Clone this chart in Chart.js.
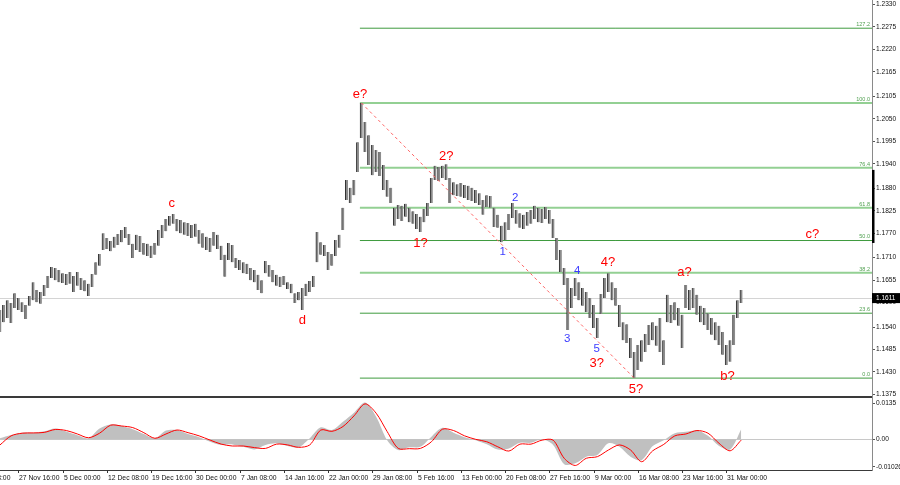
<!DOCTYPE html>
<html>
<head>
<meta charset="utf-8">
<script src="https://cdn.jsdelivr.net/npm/chart.js@4.4.1/dist/chart.umd.min.js"></script>
<style>
  html, body { margin: 0; padding: 0; background: #fff; }
  #wrap { position: relative; width: 900px; height: 485px; overflow: hidden; }
  #price { position: absolute; left: 0; top: 0; }
  #macd { position: absolute; left: 0; top: 397px; }
</style>
</head>
<body>
<div id="wrap">
  <canvas id="price" width="900" height="397"></canvas>
  <canvas id="macd" width="900" height="88"></canvas>
</div>
<script>
// bar ranges (one entry per bar, oldest first)
const highs = [
  1.1582, 1.1594, 1.1606, 1.1599, 1.1623, 1.1611, 1.1601, 1.1594, 1.1616, 1.1650,
  1.1631, 1.1626, 1.1643, 1.1665, 1.1687, 1.1685, 1.1680, 1.1672, 1.1670, 1.1675,
  1.1665, 1.1675, 1.1660, 1.1655, 1.1646, 1.1670, 1.1699, 1.1719, 1.1770, 1.1758,
  1.1751, 1.1761, 1.1768, 1.1778, 1.1785, 1.1768, 1.1744, 1.1766, 1.1763, 1.1746,
  1.1744, 1.1739, 1.1746, 1.1778, 1.1790, 1.1805, 1.1812, 1.1817, 1.1805, 1.1802,
  1.1797, 1.1795, 1.1790, 1.1793, 1.1778, 1.1770, 1.1761, 1.1758, 1.1773, 1.1766,
  1.1739, 1.1717, 1.1746, 1.1741, 1.1709, 1.1704, 1.1699, 1.1695, 1.1685, 1.1680,
  1.1668, 1.1655, 1.1702, 1.1692, 1.1680, 1.1668, 1.1663, 1.1665, 1.1650, 1.1646,
  1.1623, 1.1626, 1.1636, 1.1646, 1.1653, 1.1665, 1.1773, 1.1748, 1.1741, 1.1724,
  1.1719, 1.1753, 1.1766, 1.1832, 1.1900, 1.1881, 1.1900, 1.1993, 1.2089, 1.2042,
  1.2010, 1.1986, 1.1974, 1.1969, 1.1937, 1.1900, 1.1881, 1.1832, 1.1839, 1.1837,
  1.1842, 1.1832, 1.1824, 1.1817, 1.1810, 1.1829, 1.1844, 1.1905, 1.1935, 1.1932,
  1.1935, 1.1939, 1.1905, 1.1895, 1.1890, 1.1893, 1.1888, 1.1886, 1.1881, 1.1876,
  1.1868, 1.1851, 1.1863, 1.1861, 1.1832, 1.1815, 1.1788, 1.1797, 1.1817, 1.1844,
  1.1827, 1.1819, 1.1815, 1.1822, 1.1827, 1.1837, 1.1832, 1.1829, 1.1834, 1.1827,
  1.1805, 1.1758, 1.1729, 1.1685, 1.1660, 1.1636, 1.1660, 1.1650, 1.1636, 1.1626,
  1.1611, 1.1594, 1.1562, 1.1621, 1.1660, 1.1672, 1.1650, 1.1636, 1.1594, 1.1552,
  1.1547, 1.1513, 1.1479, 1.1496, 1.1508, 1.1523, 1.1545, 1.1552, 1.1543, 1.1562,
  1.1508, 1.1619, 1.1594, 1.1601, 1.1587, 1.1570, 1.1643, 1.1631, 1.1636, 1.1619,
  1.1592, 1.1587, 1.1574, 1.1562, 1.1552, 1.1543, 1.1528, 1.1496, 1.1508, 1.1570,
  1.1606, 1.1631
];
const lows = [
  1.1528, 1.1552, 1.1562, 1.1550, 1.1587, 1.1582, 1.1577, 1.1560, 1.1592, 1.1606,
  1.1601, 1.1597, 1.1616, 1.1636, 1.1660, 1.1655, 1.1650, 1.1648, 1.1643, 1.1646,
  1.1626, 1.1641, 1.1631, 1.1628, 1.1616, 1.1638, 1.1668, 1.1690, 1.1729, 1.1731,
  1.1726, 1.1734, 1.1741, 1.1748, 1.1758, 1.1741, 1.1709, 1.1729, 1.1724, 1.1717,
  1.1714, 1.1709, 1.1717, 1.1739, 1.1758, 1.1775, 1.1788, 1.1793, 1.1775, 1.1770,
  1.1766, 1.1763, 1.1758, 1.1761, 1.1744, 1.1734, 1.1729, 1.1724, 1.1739, 1.1731,
  1.1704, 1.1663, 1.1704, 1.1699, 1.1685, 1.1680, 1.1672, 1.1670, 1.1655, 1.1650,
  1.1631, 1.1623, 1.1672, 1.1663, 1.1650, 1.1641, 1.1638, 1.1643, 1.1633, 1.1623,
  1.1599, 1.1606, 1.1582, 1.1616, 1.1626, 1.1638, 1.1699, 1.1717, 1.1714, 1.1680,
  1.1690, 1.1714, 1.1734, 1.1778, 1.1851, 1.1844, 1.1863, 1.1920, 1.2003, 1.1969,
  1.1937, 1.1912, 1.1920, 1.1910, 1.1876, 1.1859, 1.1844, 1.1788, 1.1805, 1.1800,
  1.1810, 1.1797, 1.1793, 1.1780, 1.1773, 1.1797, 1.1812, 1.1844, 1.1900, 1.1898,
  1.1905, 1.1900, 1.1844, 1.1863, 1.1861, 1.1859, 1.1856, 1.1851, 1.1849, 1.1844,
  1.1839, 1.1815, 1.1834, 1.1832, 1.1785, 1.1783, 1.1748, 1.1753, 1.1778, 1.1807,
  1.1793, 1.1783, 1.1780, 1.1788, 1.1793, 1.1805, 1.1797, 1.1795, 1.1805, 1.1793,
  1.1758, 1.1704, 1.1675, 1.1643, 1.1533, 1.1587, 1.1616, 1.1606, 1.1592, 1.1577,
  1.1562, 1.1538, 1.1513, 1.1572, 1.1611, 1.1626, 1.1606, 1.1592, 1.1540, 1.1508,
  1.1501, 1.1464, 1.1415, 1.1435, 1.1455, 1.1479, 1.1496, 1.1508, 1.1494, 1.1479,
  1.1447, 1.1552, 1.1550, 1.1557, 1.1543, 1.1489, 1.1587, 1.1582, 1.1587, 1.1570,
  1.1552, 1.1545, 1.1533, 1.1521, 1.1508, 1.1496, 1.1472, 1.1447, 1.1455, 1.1496,
  1.1562, 1.1599
];
const lastPrice = 1.1611;

const priceTicks = [1.2330, 1.2275, 1.2220, 1.2165, 1.2105, 1.2050, 1.1995, 1.1940, 1.1880,
  1.1825, 1.1770, 1.1710, 1.1655, 1.1600, 1.1540, 1.1485, 1.1430, 1.1375];

// fibonacci grid drawn from the e? top to the 5? bottom
const fibNames = ['127.2', '100.0', '76.4', '61.8', '50.0', '38.2', '23.6', '0.0'];
const fibLevels = [1.2272, 1.2089, 1.1930, 1.1832, 1.1752, 1.1673, 1.1574, 1.1415];
const fibStart = 97.6;
const waveTop = 98;
const waveBottom = 172;

// wave count labels
const waveText = ['c', 'd', 'e?', '1?', '2?', '3?', '4?', '5?', 'a?', 'b?', 'c?'];
const waveIdx = [46.6, 82, 97.6, 114, 121, 161.8, 164.9, 172.5, 185.6, 197.3, 220.3];
const wavePrice = [1.1843, 1.1557, 1.2111, 1.1746, 1.1957, 1.1452, 1.1699, 1.1388, 1.1673, 1.1418, 1.1766];
const subText = ['1', '2', '3', '4', '5'];
const subIdx = [136.3, 139.7, 153.8, 156.5, 161.8];
const subPrice = [1.1724, 1.1856, 1.1511, 1.1677, 1.1486];
const scaleMark = [1.1925, 1.1746];

// MACD, sampled every third bar
const macdBars = [0, 3, 6, 9, 12, 15, 18, 21, 24, 27, 30, 33, 36, 39, 42, 45, 48, 51, 54, 57,
  60, 63, 66, 69, 72, 75, 78, 81, 84, 87, 90, 93, 96, 99, 102, 105, 108, 111, 114, 117,
  120, 123, 126, 129, 132, 135, 138, 141, 144, 147, 150, 153, 156, 159, 162, 165, 168, 171,
  174, 177, 180, 183, 186, 189, 192, 195, 198, 201];
const macdHist = [0.0004, 0.0016, 0.0025, 0.0025, 0.0030, 0.0041, 0.0029, 0.0015, 0.0004, 0.0041,
  0.0056, 0.0050, 0.0038, 0.0020, 0.0004, 0.0033, 0.0035, 0.0020, 0.0008, -0.0009,
  -0.0021, -0.0019, -0.0028, -0.0038, -0.0021, -0.0015, -0.0025, -0.0030, 0.0004, 0.0045,
  0.0035, 0.0066, 0.0100, 0.0138, 0.0085, -0.0003, -0.0040, -0.0030, -0.0028, 0.0010,
  0.0043, 0.0025, 0.0008, -0.0003, -0.0018, -0.0038, -0.0034, -0.0013, -0.0013, 0.0000,
  -0.0021, -0.0093, -0.0090, -0.0065, -0.0059, -0.0015, -0.0028, -0.0065, -0.0078, -0.0025,
  -0.0003, 0.0023, 0.0028, 0.0033, 0.0013, -0.0025, -0.0038, 0.0038];
const macdSignal = [-0.0021, 0.0013, 0.0023, 0.0024, 0.0026, 0.0037, 0.0033, 0.0020, 0.0006, 0.0023,
  0.0053, 0.0050, 0.0044, 0.0025, 0.0004, 0.0020, 0.0035, 0.0025, 0.0013, -0.0003,
  -0.0018, -0.0025, -0.0025, -0.0031, -0.0034, -0.0018, -0.0021, -0.0030, -0.0021, 0.0035,
  0.0030, 0.0048, 0.0088, 0.0133, 0.0098, 0.0029, -0.0034, -0.0035, -0.0034, -0.0009,
  0.0038, 0.0033, 0.0013, 0.0000, -0.0009, -0.0028, -0.0044, -0.0018, -0.0018, -0.0003,
  -0.0003, -0.0071, -0.0098, -0.0071, -0.0065, -0.0040, -0.0021, -0.0040, -0.0084, -0.0043,
  -0.0019, 0.0013, 0.0020, 0.0033, 0.0023, -0.0015, -0.0043, -0.0003];
const macdTicks = [0.0135, 0, -0.01026];
const macdTickLabels = ['0.0135', '0.00', '-0.01026'];

const timeLabels = ['20 Nov 08:00', '27 Nov 16:00', '5 Dec 00:00', '12 Dec 08:00', '19 Dec 16:00',
  '30 Dec 00:00', '7 Jan 08:00', '14 Jan 16:00', '22 Jan 00:00', '29 Jan 08:00', '5 Feb 16:00',
  '13 Feb 00:00', '20 Feb 08:00', '27 Feb 16:00', '9 Mar 00:00', '16 Mar 08:00', '23 Mar 16:00',
  '31 Mar 00:00'];
const timeIdx = [-8.5, 5, 17, 29, 41, 53, 65, 77, 89, 101, 113, 125, 137, 149, 161, 173, 185, 197];

const FONT = '"Liberation Sans", Arial, sans-serif';
Chart.defaults.font.family = FONT;

const xMax = 872 / 3.6875; // empty space kept right of the last bar

function fixWidth(scale) {
  scale.width = 28;
  scale.paddingTop = 0;
  scale.paddingBottom = 0;
}

const priceOverlay = {
  id: 'priceOverlay',
  beforeDatasetsDraw(chart) {
    const { ctx, chartArea: a, scales: { y } } = chart;
    const py = Math.round(y.getPixelForValue(lastPrice)) + 0.5;
    ctx.save();
    ctx.strokeStyle = '#d4d4d4';
    ctx.lineWidth = 1;
    ctx.beginPath();
    ctx.moveTo(a.left, py);
    ctx.lineTo(a.right, py);
    ctx.stroke();
    ctx.restore();
  },
  afterDatasetsDraw(chart) {
    const { ctx, chartArea: a, scales: { x, y } } = chart;
    ctx.save();
    ctx.font = '5.5px ' + FONT;
    ctx.fillStyle = '#4f9f4f';
    ctx.textAlign = 'right';
    ctx.textBaseline = 'bottom';
    fibLevels.forEach((lvl, j) => {
      ctx.fillText(fibNames[j], a.right - 2, y.getPixelForValue(lvl) - 1);
    });

    ctx.textAlign = 'center';
    ctx.textBaseline = 'middle';
    ctx.font = '13px ' + FONT;
    ctx.fillStyle = '#ff0000';
    waveText.forEach((t, j) => {
      ctx.fillText(t, x.getPixelForValue(waveIdx[j]), y.getPixelForValue(wavePrice[j]));
    });
    ctx.font = '11.5px ' + FONT;
    ctx.fillStyle = '#3c3cff';
    subText.forEach((t, j) => {
      ctx.fillText(t, x.getPixelForValue(subIdx[j]), y.getPixelForValue(subPrice[j]));
    });
    ctx.restore();
  },
  afterDraw(chart) {
    const { ctx, chartArea: a, scales: { y } } = chart;
    ctx.save();
    ctx.fillStyle = '#3a3a3a';
    ctx.fillRect(0, a.bottom, a.right, 1);

    const t = y.getPixelForValue(scaleMark[0]);
    const b = y.getPixelForValue(scaleMark[1]);
    ctx.fillStyle = '#000';
    ctx.fillRect(a.right, t, 2.5, b - t);

    const py = y.getPixelForValue(lastPrice);
    ctx.fillStyle = '#000';
    ctx.fillRect(a.right, py - 5, 28, 10);
    ctx.fillStyle = '#fff';
    ctx.font = '6.5px ' + FONT;
    ctx.textAlign = 'left';
    ctx.textBaseline = 'middle';
    ctx.fillText(lastPrice.toFixed(4), a.right + 4, py + 0.5);
    ctx.restore();
  }
};

const macdOverlay = {
  id: 'macdOverlay',
  beforeDatasetsDraw(chart) {
    const { ctx, chartArea: a, scales: { y } } = chart;
    const py = Math.round(y.getPixelForValue(0)) + 0.5;
    ctx.save();
    ctx.strokeStyle = '#c8c8c8';
    ctx.lineWidth = 1;
    ctx.beginPath();
    ctx.moveTo(a.left, py);
    ctx.lineTo(a.right, py);
    ctx.stroke();
    ctx.restore();
  },
  afterDraw(chart) {
    const { ctx, chartArea: a, scales: { x } } = chart;
    ctx.save();
    ctx.fillStyle = '#3a3a3a';
    ctx.fillRect(0, 0, a.right, 1);
    ctx.fillRect(0, a.bottom, a.right, 1);
    ctx.fillStyle = '#8a8a8a';
    ctx.fillRect(a.right, 0, 1, 1);

    ctx.font = '6.8px ' + FONT;
    ctx.textAlign = 'left';
    ctx.textBaseline = 'alphabetic';
    timeIdx.forEach((idx, j) => {
      const px = Math.round(x.getPixelForValue(idx));
      ctx.fillStyle = '#333';
      ctx.fillRect(px, a.bottom, 1, 3);
      ctx.fillStyle = '#111';
      ctx.fillText(timeLabels[j], px + 1, a.bottom + 10);
    });
    ctx.restore();
  }
};

new Chart(document.getElementById('price'), {
  type: 'bar',
  data: {
    datasets: [
      {
        type: 'bar',
        data: highs.map((h, i) => ({ x: i, y: [lows[i], h] })),
        backgroundColor: '#8c8c8c',
        borderColor: '#333333',
        borderWidth: { left: 1, right: 0, top: 0, bottom: 0 },
        borderSkipped: false,
        barThickness: 2.6,
        order: 2
      },
      ...fibLevels.map((lvl, j) => ({
        type: 'line',
        data: [{ x: fibStart, y: lvl }, { x: xMax, y: lvl }],
        borderColor: [1, 2, 3, 5].includes(j) ? '#93d093' : '#3f9b3f',
        borderWidth: [1, 2, 3, 5].includes(j) ? 2 : 1,
        pointRadius: 0,
        order: 3
      })),
      {
        type: 'line',
        data: [{ x: waveTop, y: highs[waveTop] }, { x: waveBottom, y: lows[waveBottom] }],
        borderColor: '#ff6464',
        borderWidth: 1,
        borderDash: [3, 3],
        pointRadius: 0,
        order: 1
      }
    ]
  },
  options: {
    responsive: false,
    animation: false,
    layout: { padding: { left: 0, right: 0, top: 0, bottom: 1 } },
    plugins: { legend: { display: false }, tooltip: { enabled: false } },
    scales: {
      x: { type: 'linear', min: 0, max: xMax, offset: false, display: false },
      y: {
        position: 'right',
        min: 1.13712,
        max: 1.23411,
        beginAtZero: false,
        afterFit: fixWidth,
        afterBuildTicks: (s) => { s.ticks = priceTicks.map((v) => ({ value: v })); },
        grid: { drawOnChartArea: false, drawTicks: true, tickLength: 3, color: '#555' },
        border: { display: true, color: '#8a8a8a', width: 1 },
        ticks: {
          autoSkip: false,
          padding: 1,
          color: '#111',
          font: { size: 6.6 },
          callback: (v) => Number(v).toFixed(4)
        }
      }
    }
  },
  plugins: [priceOverlay]
});

new Chart(document.getElementById('macd'), {
  type: 'line',
  data: {
    datasets: [
      {
        data: macdBars.map((b, k) => ({ x: b, y: macdHist[k] })),
        borderWidth: 0,
        borderColor: 'rgba(0,0,0,0)',
        backgroundColor: '#c0c0c0',
        fill: 'origin',
        pointRadius: 0,
        tension: 0.3,
        order: 2
      },
      {
        data: macdBars.map((b, k) => ({ x: b, y: macdSignal[k] })),
        borderColor: '#ff0000',
        borderWidth: 1,
        fill: false,
        pointRadius: 0,
        tension: 0.3,
        order: 1
      }
    ]
  },
  options: {
    responsive: false,
    animation: false,
    layout: { padding: { left: 0, right: 0, top: 1, bottom: 15 } },
    plugins: { legend: { display: false }, tooltip: { enabled: false } },
    scales: {
      x: { type: 'linear', min: 0, max: xMax, display: false },
      y: {
        position: 'right',
        min: -0.0115,
        max: 0.0155,
        afterFit: fixWidth,
        afterBuildTicks: (s) => { s.ticks = macdTicks.map((v) => ({ value: v })); },
        grid: { drawOnChartArea: false, drawTicks: true, tickLength: 3, color: '#555' },
        border: { display: true, color: '#8a8a8a', width: 1 },
        ticks: {
          autoSkip: false,
          padding: 1,
          color: '#111',
          font: { size: 6.6 },
          callback: (v) => macdTickLabels[macdTicks.indexOf(v)]
        }
      }
    }
  },
  plugins: [macdOverlay]
});
</script>
</body>
</html>
